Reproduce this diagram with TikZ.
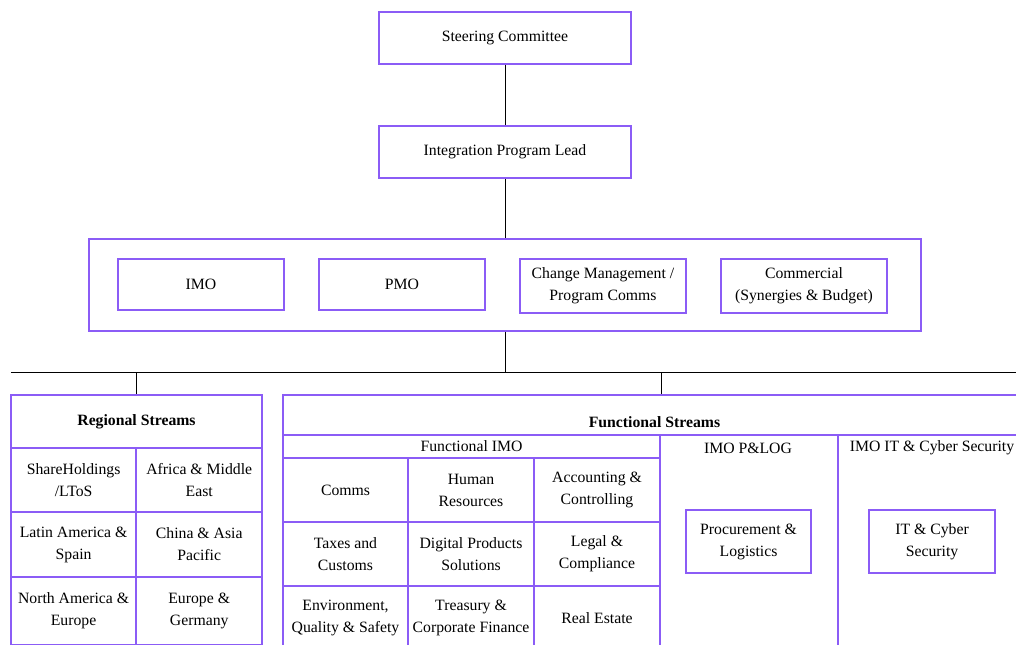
\documentclass[tikz,border=0pt]{standalone}
\usepackage{fontspec}
\setmainfont{Liberation Serif}
\usepackage{xcolor}
\usepackage{tikz}
\usetikzlibrary{positioning}
\definecolor{streamviolet}{RGB}{139,92,246}

\begin{document}
\begin{tikzpicture}[
  unit/.style={draw=streamviolet, line width=1.4pt, align=center, inner sep=0pt,
               font=\fontsize{11.2}{15.6}\selectfont},
  cell/.style={unit, minimum width=3.14cm, minimum height=1.6cm},
  lead/.style={unit, minimum width=6.3cm, minimum height=1.3cm},
  office/.style={unit, minimum width=4.15cm, minimum height=1.275cm},
  head/.style={align=center, inner sep=0pt, font=\fontsize{11.2}{15.6}\selectfont},
  link/.style={line width=0.7pt, black}
]
\useasboundingbox (0,0) rectangle (25.4,-16.1);
\clip (0,0) rectangle (25.4,-16.1);

% governance
\node[lead] (steer) at (12.625,-0.95) {Steering Committee};
\node[lead] (lead) at (12.625,-3.8) {Integration Program Lead};
\node[unit, minimum width=20.8cm, minimum height=2.3cm, line width=1pt] (mgmt) at (12.625,-7.125) {};
\node[office] (imo) at (5.025,-7.1125) {IMO};
\node[office] (pmo) at (10.05,-7.1125) {PMO};
\node[office, minimum height=1.35cm] (chg) at (15.075,-7.15) {Change Management /\\Program Comms};
\node[office, minimum height=1.35cm] (comm) at (20.1,-7.15) {Commercial\\(Synergies \& Budget)};

% regional streams
\node[unit, minimum width=6.275cm, minimum height=1.325cm, font=\fontsize{11.2}{15.6}\selectfont\bfseries] (reg) at (3.4125,-10.5375) {Regional Streams};
\node[cell, minimum width=3.1375cm] (rA) at (1.84,-12.0) {ShareHoldings\\/LToS};
\node[cell, minimum width=3.1375cm] (rB) at (4.98,-12.0) {Africa \& Middle\\East};
\node[cell, minimum width=3.1375cm, minimum height=1.625cm] (rC) at (1.84,-13.6125) {Latin America \&\\Spain};
\node[cell, minimum width=3.1375cm, minimum height=1.625cm] (rD) at (4.98,-13.6125) {China \& Asia\\Pacific};
\node[cell, minimum width=3.1375cm, minimum height=1.7cm] (rE) at (1.84,-15.275) {North America \&\\Europe};
\node[cell, minimum width=3.1375cm, minimum height=1.7cm] (rF) at (4.98,-15.275) {Europe \&\\Germany};

% functional streams
\node[unit, minimum width=18.575cm, minimum height=1cm] (func) at (16.3625,-10.375) {};
\node[head, font=\fontsize{11.2}{15.6}\selectfont\bfseries] (funcT) at (16.3625,-10.55) {Functional Streams};
\node[unit, minimum width=9.425cm, minimum height=0.575cm] (fimo) at (11.7875,-11.1625) {Functional IMO};
\node[cell] (fA) at (8.6375,-12.25) {Comms};
\node[cell] (fB) at (11.775,-12.25) {Human\\Resources};
\node[cell] (fC) at (14.925,-12.25) {Accounting \&\\Controlling};
\node[cell] (fD) at (8.6375,-13.85) {Taxes and\\Customs};
\node[cell] (fE) at (11.775,-13.85) {Digital Products\\Solutions};
\node[cell] (fF) at (14.925,-13.85) {Legal \&\\Compliance};
\node[cell] (fG) at (8.6375,-15.45) {Environment,\\Quality \& Safety};
\node[cell] (fH) at (11.775,-15.45) {Treasury \&\\Corporate Finance};
\node[cell] (fI) at (14.925,-15.45) {Real Estate};

\node[unit, minimum width=4.45cm, minimum height=6cm] (plog) at (18.725,-13.875) {};
\node[unit, minimum width=4.7cm, minimum height=6cm] (itsec) at (23.3,-13.875) {};
\node[head] (plogT) at (18.7,-11.2) {IMO P\&LOG};
\node[head] (itsecT) at (23.3,-11.2) {IMO IT \& Cyber Security};
\node[unit, minimum width=3.125cm, minimum height=1.575cm] (proc) at (18.7125,-13.5375) {Procurement \&\\Logistics};
\node[unit, minimum width=3.15cm, minimum height=1.575cm] (itcs) at (23.3,-13.5375) {IT \& Cyber\\Security};

% connectors
\coordinate (busL) at (0.275,-9.3);
\coordinate (busR) at (25.8,-9.3);
\draw[link] (steer.south) -- (lead.north);
\draw[link] (lead.south) -- (mgmt.north);
\draw[link] (mgmt.south) -- (mgmt.south |- busL);
\draw[link] (busL) -- (busR);
\draw[link] (reg.north |- busL) -- (reg.north);
\draw[link] (fimo.east |- busL) -- (fimo.east |- func.north);
\end{tikzpicture}
\end{document}
